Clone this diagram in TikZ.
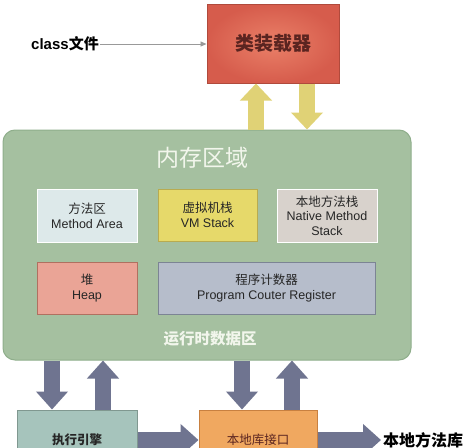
\documentclass[tikz,border=0pt]{standalone}
\usepackage{fontspec}
\setmainfont{Liberation Sans}
\newfontfamily\cjk{Noto Sans CJK SC}
\usetikzlibrary{arrows.meta}
\definecolor{loaderIn}{HTML}{EA8068}
\definecolor{loaderOut}{HTML}{D65C4C}
\definecolor{loaderLine}{HTML}{B04A3C}
\definecolor{loaderText}{HTML}{5A2420}
\definecolor{memGreen}{HTML}{A5C0A0}
\definecolor{memLine}{HTML}{8FAE8B}
\definecolor{methodFill}{HTML}{DDE9EA}
\definecolor{vmFill}{HTML}{E6D96A}
\definecolor{vmLine}{HTML}{B8AB50}
\definecolor{nativeFill}{HTML}{D8D2CC}
\definecolor{heapFill}{HTML}{EAA496}
\definecolor{heapLine}{HTML}{B07060}
\definecolor{pcFill}{HTML}{B6BDCB}
\definecolor{pcLine}{HTML}{7C8494}
\definecolor{execFill}{HTML}{A6C4BC}
\definecolor{execLine}{HTML}{809890}
\definecolor{ifaceFill}{HTML}{F0A860}
\definecolor{ifaceLine}{HTML}{C88040}
\definecolor{yArrow}{HTML}{E0D276}
\definecolor{dArrow}{HTML}{6F7490}
\definecolor{titleWhite}{HTML}{F2F6EC}
\tikzset{
  box/.style={rectangle, inner sep=0pt, align=center, line width=1pt},
  subbox/.style={box, font=\fontsize{12.5}{15}\selectfont, text=black!85},
  yarrow/.style={draw=yArrow, line width=16pt, -{Triangle[width=31pt,length=17pt]}},
  darrow/.style={draw=dArrow, line width=16pt, -{Triangle[width=31pt,length=18pt]}},
  thin arrow/.style={draw=gray!80, line width=0.8pt, -{Triangle[width=5pt,length=6pt]}},
}
\begin{document}
\begin{tikzpicture}[x=1pt, y=-1pt]
\useasboundingbox (0,0) rectangle (470,447);
\clip (0,0) rectangle (470,447);
\fill[white] (0,0) rectangle (470,447);

% class loader
\node[box, draw=loaderLine, inner color=loaderIn, outer color=loaderOut,
      minimum width=132pt, minimum height=79pt,
      font=\cjk\bfseries\fontsize{19}{22}\selectfont, text=loaderText]
      (loader) at (273,43.5) {类装载器};
\node[font=\bfseries\fontsize{15}{17}\selectfont, inner sep=1pt]
      (cls) at (65,44) {class{\cjk 文件}};
\draw[thin arrow] (cls.east) -- (loader.west |- cls.east);

% memory area
\node[box, draw=memLine, fill=memGreen, rounded corners=12pt,
      minimum width=408pt, minimum height=230pt] (mem) at (207,245) {};
\node[font=\cjk\fontsize{23}{26}\selectfont, text=titleWhite] (title) at (202,158) {内存区域};

\node[subbox, draw=white, fill=methodFill, minimum width=100pt, minimum height=53pt]
      (method) at (87,215.5) {{\cjk 方法区}\\Method Area};
\node[subbox, draw=vmLine, fill=vmFill, minimum width=99pt, minimum height=52pt]
      (vm) at (207.5,215) {{\cjk 虚拟机栈}\\VM Stack};
\node[subbox, draw=white, fill=nativeFill, minimum width=100pt, minimum height=53pt,
      font=\fontsize{12.5}{14.5}\selectfont]
      (native) at (327,215.5) {{\cjk 本地方法栈}\\Native Method\\Stack};
\node[subbox, draw=heapLine, fill=heapFill, minimum width=100pt, minimum height=52pt]
      (heap) at (87,288) {{\cjk 堆}\\Heap};
\node[subbox, draw=pcLine, fill=pcFill, minimum width=217pt, minimum height=52pt]
      (pc) at (266.5,288) {{\cjk 程序计数器}\\Program Couter Register};
\node[font=\cjk\bfseries\fontsize{15.5}{18}\selectfont, text=titleWhite] (runtime) at (210,339) {运行时数据区};

% loader <-> memory arrows
\draw[yarrow] ([xshift=-17pt]loader.south |- mem.north) -- ([xshift=-17pt]loader.south);
\draw[yarrow] ([xshift=34pt]loader.south) -- ([xshift=34pt]loader.south |- mem.north);

% bottom boxes
\node[box, draw=execLine, fill=execFill, minimum width=120pt, minimum height=60pt,
      font=\cjk\bfseries\fontsize{12.5}{14}\selectfont, text=black!85]
      (exec) at (77,440) {执行引擎};
\node[box, draw=ifaceLine, fill=ifaceFill, minimum width=118pt, minimum height=60pt,
      font=\cjk\fontsize{12.5}{14}\selectfont, text=loaderText]
      (iface) at (258,440) {本地库接口};
\node[font=\cjk\bfseries\fontsize{16}{18}\selectfont, inner sep=2pt, anchor=west]
      (lib) at (381,440) {本地方法库};

% memory <-> bottom arrows
\draw[darrow] ([xshift=-25pt]exec.north |- mem.south) -- ([xshift=-25pt]exec.north);
\draw[darrow] ([xshift=26pt]exec.north) -- ([xshift=26pt]exec.north |- mem.south);
\draw[darrow] ([xshift=-16pt]iface.north |- mem.south) -- ([xshift=-16pt]iface.north);
\draw[darrow] ([xshift=34pt]iface.north) -- ([xshift=34pt]iface.north |- mem.south);

% horizontal arrows
\draw[darrow] (exec.east) -- (iface.west);
\draw[darrow] (iface.east) -- (lib.west);
\end{tikzpicture}
\end{document}
